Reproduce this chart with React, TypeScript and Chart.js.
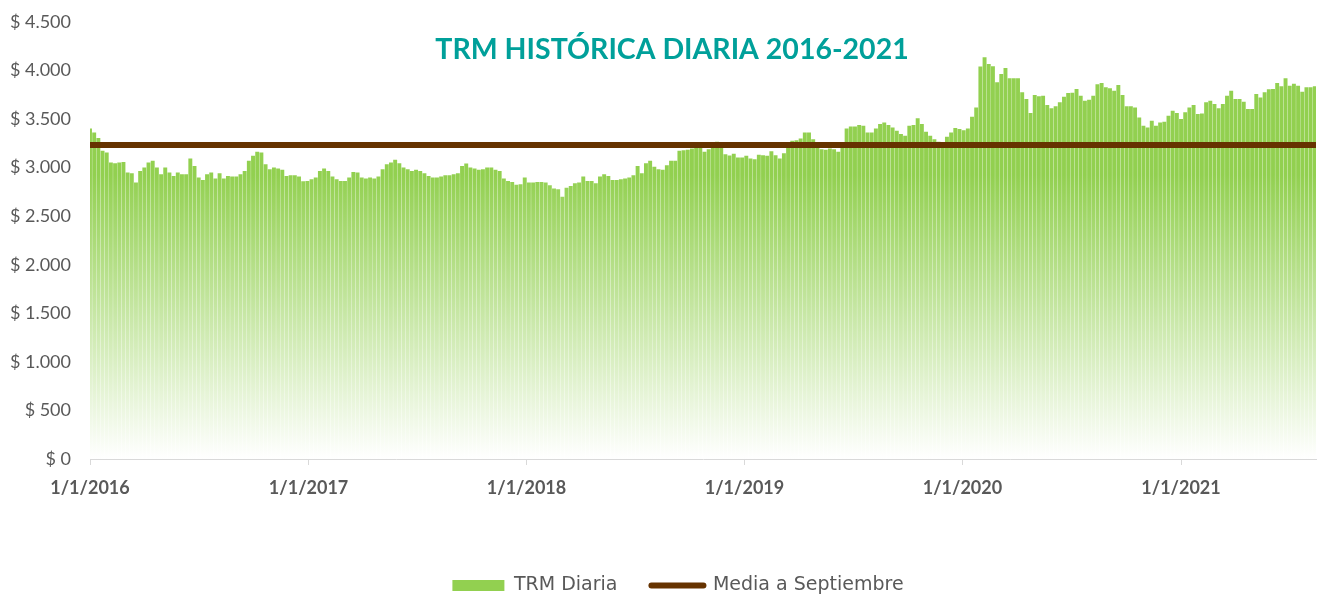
import React, { useEffect, useRef } from 'react';
import { Chart, registerables } from 'chart.js';

Chart.register(...registerables);

const TITLE = 'TRM HISTÓRICA DIARIA 2016-2021';
const SERIES_TRM = 'TRM Diaria';
const SERIES_MEAN = 'Media a Septiembre';

// one sample per week, counted in days from 1/1/2016
const DAYS_PER_SAMPLE = 7;
const X_MAX_DAY = 2053;
const X_TICK_DAYS = [0, 366, 731, 1096, 1461, 1827];
const X_TICK_LABELS = ['1/1/2016', '1/1/2017', '1/1/2018', '1/1/2019', '1/1/2020', '1/1/2021'];

const Y_MIN = 0;
const Y_MAX = 4500;
const Y_STEP = 500;

const MEAN_VALUE = 3232;

const TRM_2016 = [
  3402, 3361, 3305, 3172, 3155, 3051, 3044, 3051, 3058, 2948, 2941, 2845, 2965, 3000,
  3051, 3069, 3000, 2931, 3000, 2948, 2914, 2948, 2931, 2931, 3093, 3017, 2897, 2872,
  2931, 2948, 2886, 2941, 2886, 2914, 2907, 2907, 2931, 2965, 3069, 3120, 3162, 3155,
  3034, 2983, 3000, 2989, 2976, 2914, 2921, 2921, 2907, 2858, 2862,
];
const TRM_2017 = [
  2879, 2897, 2965, 2989, 2965, 2907, 2879, 2862, 2862, 2897, 2955, 2948, 2897, 2886,
  2897, 2886, 2907, 2983, 3034, 3051, 3079, 3044, 3000, 2983, 2965, 2976, 2965, 2941,
  2914, 2897, 2897, 2907, 2921, 2921, 2931, 2941, 3017, 3041, 3000, 2989, 2976, 2983,
  3000, 3000, 2976, 2965, 2886, 2862, 2852, 2822, 2828, 2897,
];
const TRM_2018 = [
  2845, 2845, 2852, 2852, 2845, 2817, 2783, 2776, 2700, 2793, 2810, 2838, 2845, 2907,
  2862, 2862, 2838, 2907, 2931, 2914, 2872, 2872, 2879, 2886, 2897, 2921, 3017, 2941,
  3044, 3069, 3007, 2983, 2976, 3024, 3069, 3069, 3172, 3179, 3182, 3196, 3223, 3241,
  3162, 3189, 3251, 3265, 3223, 3137, 3124, 3143, 3103, 3103,
];
const TRM_2019 = [
  3120, 3093, 3086, 3131, 3127, 3120, 3168, 3127, 3093, 3148, 3224, 3275, 3282, 3299,
  3361, 3361, 3292, 3258, 3189, 3182, 3196, 3189, 3162, 3230, 3402, 3423, 3423, 3437,
  3430, 3361, 3361, 3402, 3447, 3464, 3437, 3413, 3378, 3344, 3327, 3430, 3437, 3506,
  3447, 3368, 3327, 3292, 3265, 3251, 3318, 3361, 3406, 3396,
];
const TRM_2020 = [
  3385, 3402, 3523, 3619, 4040, 4135, 4066, 4042, 3877, 3963, 4025, 3919, 3919, 3919,
  3774, 3705, 3561, 3747, 3733, 3740, 3643, 3609, 3630, 3671, 3729, 3767, 3771, 3808,
  3740, 3688, 3698, 3740, 3857, 3870, 3826, 3815, 3791, 3850, 3747, 3630, 3630, 3619,
  3516, 3430, 3413, 3482, 3430, 3464, 3471, 3533, 3585, 3561,
];
const TRM_2021 = [
  3499, 3568, 3619, 3643, 3550, 3557, 3671, 3688, 3654, 3609, 3654, 3740, 3791, 3705,
  3705, 3678, 3602, 3602, 3757, 3722, 3774, 3805, 3808, 3870, 3836, 3918, 3843, 3863,
  3843, 3781, 3826, 3826, 3836,
];

const TRM_VALUES = [...TRM_2016, ...TRM_2017, ...TRM_2018, ...TRM_2019, ...TRM_2020, ...TRM_2021];

const GREEN = '#92D050';
const BROWN = '#663300';
const TEAL = '#00A09A';
const GRAY_TEXT = '#595959';
const AXIS_GRAY = '#D9D9D9';

const formatPeso = (v: number) =>
  '$ ' + String(Math.round(v)).replace(/\B(?=(\d{3})+(?!\d))/g, '.');

let gradCache: { key: string; grad: CanvasGradient } | null = null;
function barGradient(chart: any) {
  const area = chart.chartArea;
  if (!area) return GREEN;
  const key = `${area.top}-${area.bottom}`;
  if (gradCache && gradCache.key === key) return gradCache.grad;
  const g = chart.ctx.createLinearGradient(0, area.top, 0, area.bottom);
  g.addColorStop(0, GREEN);
  g.addColorStop(0.35, GREEN);
  g.addColorStop(1, '#FFFFFF');
  gradCache = { key, grad: g };
  return g;
}

const titlePlugin = {
  id: 'insideTitle',
  afterDraw(chart: any) {
    const ctx = chart.ctx;
    ctx.save();
    ctx.font = 'bold 28.5px Lato';
    ctx.fillStyle = TEAL;
    ctx.textAlign = 'center';
    ctx.textBaseline = 'middle';
    ctx.fillText(TITLE, chart.width / 2 + 13, 50);
    ctx.restore();
  },
};

const legendShiftPlugin = {
  id: 'legendShift',
  afterLayout(chart: any) {
    const l = chart.legend;
    if (!l) return;
    l.left += 40;
    l.top += 2;
    l.bottom += 2;
  },
};

export default function App() {
  const canvasRef = useRef<HTMLCanvasElement | null>(null);

  useEffect(() => {
    document.body.style.margin = '0';
    document.body.style.overflow = 'hidden';
    const canvas = canvasRef.current;
    if (!canvas) return;

    const trmData = TRM_VALUES.map((v, i) => ({ x: i * DAYS_PER_SAMPLE, y: v }));
    const meanData = [
      { x: 0, y: MEAN_VALUE },
      { x: X_MAX_DAY, y: MEAN_VALUE },
    ];

    const chart = new Chart(canvas, {
      type: 'bar',
      data: {
        datasets: [
          {
            type: 'bar',
            label: SERIES_TRM,
            data: trmData as any,
            backgroundColor: (c: any) => barGradient(c.chart),
            borderWidth: 0,
            barPercentage: 0.94,
            categoryPercentage: 1,
            order: 2,
          } as any,
          {
            type: 'line',
            label: SERIES_MEAN,
            data: meanData as any,
            borderColor: BROWN,
            backgroundColor: BROWN,
            borderWidth: 6,
            pointRadius: 0,
            fill: false,
            order: 1,
          } as any,
        ],
      },
      options: {
        animation: false,
        responsive: true,
        maintainAspectRatio: false,
        events: [],
        layout: { padding: { left: 0, right: 2, top: 5, bottom: -6 } },
        scales: {
          x: {
            type: 'linear',
            min: 0,
            max: X_MAX_DAY,
            offset: false,
            afterBuildTicks: (axis: any) => {
              axis.ticks = X_TICK_DAYS.map((v) => ({ value: v }));
            },
            afterFit: (axis: any) => {
              axis.height = 81;
            },
            ticks: {
              autoSkip: false,
              maxRotation: 0,
              padding: 12,
              color: GRAY_TEXT,
              font: { family: 'Lato', size: 18, weight: 'bold' },
              callback: (_v: any, i: number) => X_TICK_LABELS[i],
            },
            grid: {
              offset: false,
              drawOnChartArea: false,
              drawTicks: true,
              tickLength: 6,
              color: AXIS_GRAY,
            },
            border: { display: true, color: AXIS_GRAY, width: 1 },
          },
          y: {
            min: Y_MIN,
            max: Y_MAX,
            afterFit: (axis: any) => {
              axis.width = 90;
            },
            ticks: {
              stepSize: Y_STEP,
              padding: 11,
              color: GRAY_TEXT,
              font: { family: 'Lato', size: 18 },
              callback: (v: any) => formatPeso(Number(v)),
            },
            grid: { display: false },
            border: { display: false },
          },
        },
        plugins: {
          title: { display: false },
          tooltip: { enabled: false },
          legend: {
            display: true,
            position: 'bottom',
            labels: {
              usePointStyle: true,
              pointStyleWidth: 52,
              boxWidth: 52,
              boxHeight: 11,
              padding: 34,
              color: GRAY_TEXT,
              font: { family: 'DejaVu Sans', size: 19 },
              generateLabels: () => [
                {
                  text: SERIES_TRM,
                  datasetIndex: 0,
                  pointStyle: 'rect',
                  fillStyle: GREEN,
                  strokeStyle: GREEN,
                  lineWidth: 0,
                  fontColor: GRAY_TEXT,
                  hidden: false,
                },
                {
                  text: SERIES_MEAN,
                  datasetIndex: 1,
                  pointStyle: 'line',
                  fillStyle: BROWN,
                  strokeStyle: BROWN,
                  lineWidth: 6,
                  lineCap: 'round',
                  fontColor: GRAY_TEXT,
                  hidden: false,
                },
              ],
            },
          },
        },
      } as any,
      plugins: [titlePlugin, legendShiftPlugin],
    });

    return () => {
      chart.destroy();
    };
  }, []);

  return (
    <div style={{ position: 'relative', width: '1318px', height: '597px' }}>
      <canvas ref={canvasRef} />
    </div>
  );
}
